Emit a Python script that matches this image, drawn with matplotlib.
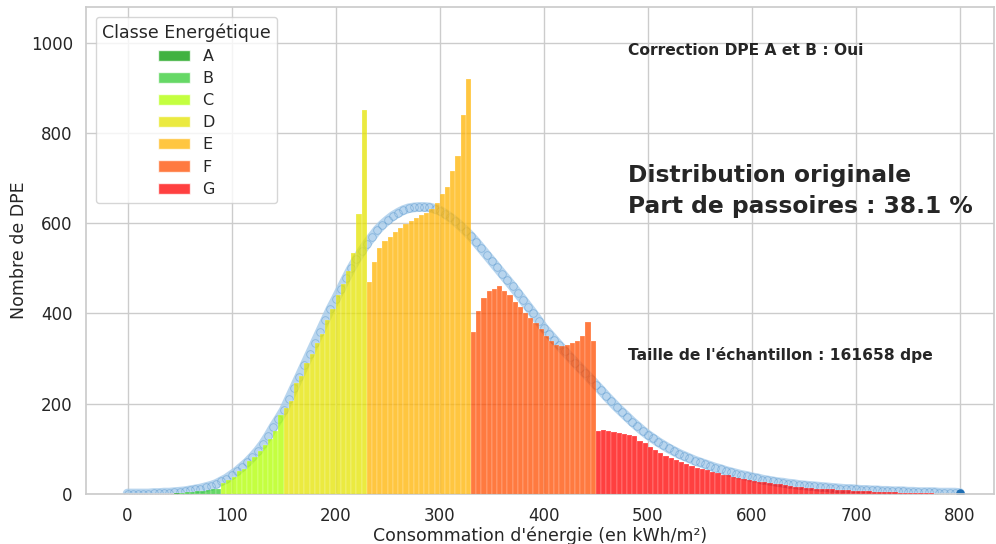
import matplotlib
matplotlib.use('Agg')
import matplotlib.pyplot as plt
from matplotlib.patches import Patch
import seaborn as sns

# classes DPE (bornes basses, pas de 5 kWh/m²)
classes = ['A', 'B', 'C', 'D', 'E', 'F', 'G']
class_colors = ['#009900', '#33cc33', '#b0ff00', '#e5e300', '#ffb300', '#ff4d00', '#ff0000']
class_starts = [0, 50, 90, 150, 230, 330, 450]
bin_width = 5

counts_A = [0, 0, 0, 0, 0, 0, 0, 1, 1, 2]
counts_B = [3, 4, 5, 6, 7, 8, 10, 12]
counts_C = [25, 30, 38, 50, 55, 72, 82, 95, 108, 122, 140, 175]
counts_D = [190, 205, 245, 262, 290, 310, 335, 355, 385, 410, 440, 465, 495, 535, 620, 850]
counts_E = [470, 515, 545, 560, 570, 580, 590, 598, 605, 612, 618, 622, 632, 645, 665, 680,
            715, 750, 840, 920]
counts_F = [360, 405, 435, 450, 455, 460, 450, 440, 425, 415, 400, 390, 378, 365, 350, 340,
            330, 328, 330, 335, 340, 350, 380, 340]
counts_G = [140, 142, 140, 138, 135, 132, 130, 128, 118, 112,
            103, 98, 90, 85, 80, 76, 70, 66, 62, 58,
            55, 52, 48, 46, 43, 41, 37, 35, 33, 31,
            29, 27, 26, 24, 22, 21, 19, 18, 16, 15,
            14, 13, 12, 11, 10, 10, 9, 8, 8, 7,
            7, 6, 6, 5, 5, 4, 4, 4, 3, 3,
            3, 2, 2, 2, 2, 1, 1, 1, 1, 1]
class_counts = [counts_A, counts_B, counts_C, counts_D, counts_E, counts_F, counts_G]

# courbe ajustee, lue tous les 5 kWh/m² de 0 a 800
fit_x = list(range(0, 801, 5))
fit_y = [1, 1, 1, 1, 1, 2, 2, 3, 3, 4,
         5, 6, 8, 10, 12, 15, 18, 22, 28, 34,
         42, 50, 60, 70, 82, 95, 110, 128, 148, 166,
         185, 210, 235, 260, 285, 310, 335, 360, 385, 410,
         432, 455, 478, 500, 520, 538, 555, 570, 585, 597,
         607, 616, 623, 629, 633, 635, 636, 636, 635, 632,
         628, 621, 613, 604, 594, 583, 571, 558, 544, 530,
         516, 502, 488, 474, 460, 445, 430, 415, 400, 384,
         368, 355, 342, 329, 316, 304, 291, 279, 267, 255,
         242, 230, 217, 205, 193, 182, 171, 160, 150, 140,
         131, 123, 115, 108, 101, 95, 89, 84, 79, 74,
         70, 66, 62, 58, 55, 51, 48, 45, 42, 40,
         37, 35, 32, 30, 28, 26, 25, 23, 22, 20,
         19, 18, 17, 16, 15, 14, 13, 12, 11, 11,
         10, 9, 9, 8, 8, 7, 7, 6, 6, 6,
         5, 5, 4, 4, 4, 4, 3, 3, 3, 3,
         2]

sns.set_theme(style='whitegrid')
plt.rcParams['font.family'] = ['DejaVu Sans']

fig = plt.figure(figsize=(9.96, 5.44), dpi=100)
ax = fig.add_axes([0.0863, 0.092, 0.912, 0.895])

# courbe
ax.plot(fit_x, fit_y, color='#a6cbea', lw=7, alpha=0.8, zorder=2, solid_capstyle='round')
ax.plot(fit_x, fit_y, 'o', ms=5.5, mfc='none', mec='#3f87c4', mew=0.6, alpha=0.4, zorder=2)
ax.plot(fit_x[-1:], fit_y[-1:], 'o', ms=5, color='#1f6fb4', zorder=2)

# histogramme par classe
for cls, col, start, cnt in zip(classes, class_colors, class_starts, class_counts):
    xs = [start + i * bin_width for i in range(len(cnt))]
    ax.bar(xs, cnt, width=bin_width, align='edge', color=col, alpha=0.75,
           edgecolor='white', linewidth=0.2, zorder=3)

ax.set_xlim(-40, 833)
ax.set_ylim(0, 1079)
ax.set_xticks(range(0, 801, 100))
ax.set_yticks(range(0, 1001, 200))
ax.tick_params(labelsize=12, colors='#262626')
ax.set_xlabel("Consommation d'énergie (en kWh/m²)", fontsize=12.5, color='#262626', labelpad=1)
ax.set_ylabel('Nombre de DPE', fontsize=12.5, color='#262626', labelpad=2)

handles = [Patch(facecolor=c, alpha=0.75, label=k) for k, c in zip(classes, class_colors)]
ax.legend(handles=handles, title='Classe Energétique', loc='upper left', fontsize=11.5,
          title_fontsize=12.5, frameon=True, labelspacing=0.45, borderaxespad=0.6)

ax.text(481, 983, 'Correction DPE A et B : Oui', fontsize=11.2, fontweight='bold',
        color='#262626', va='center')
ax.text(481, 671, 'Distribution originale\nPart de passoires : 38.1 %', fontsize=16.8,
        fontweight='bold', color='#262626', va='center', linespacing=1.45)
ax.text(481, 308, "Taille de l'échantillon : 161658 dpe", fontsize=11.2, fontweight='bold',
        color='#262626', va='center')

plt.savefig('out.png', dpi=100)
